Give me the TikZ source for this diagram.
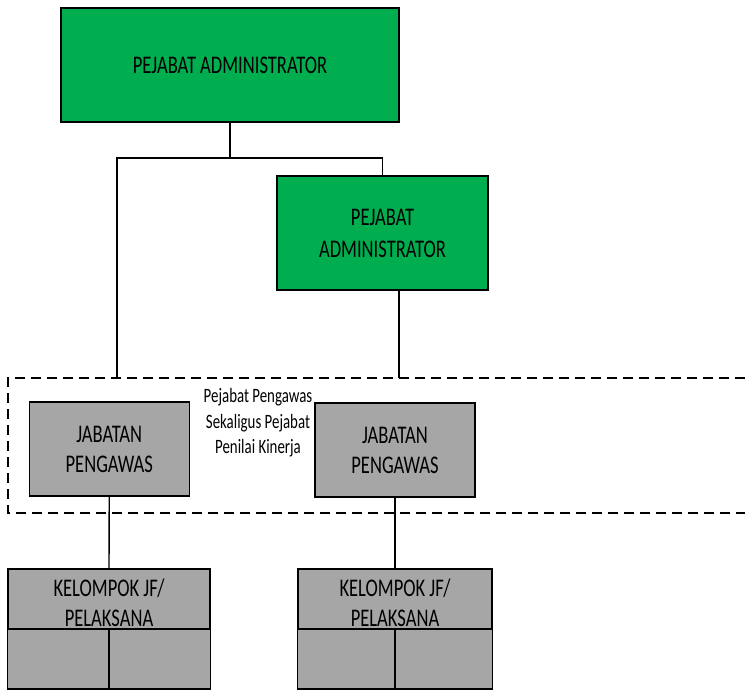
\documentclass[tikz,border=0pt]{standalone}
\usepackage{fontspec}
\newfontfamily\boxfont[FakeStretch=0.73]{Carlito}
\definecolor{admgreen}{HTML}{00AE50}
\definecolor{unitgray}{HTML}{A6A6A6}
\begin{document}
\begin{tikzpicture}[x=1pt,y=-1pt,
  box/.style={draw=black, line width=1.4pt, inner sep=0pt, align=center,
    font=\boxfont\fontsize{25.4}{30}\selectfont},
  greenbox/.style={box, fill=admgreen},
  graybox/.style={box, fill=unitgray},
  cell/.style={draw=black, line width=1.4pt, fill=unitgray},
  link/.style={draw=black, line width=1.4pt},
  groupline/.style={draw=black, line width=1.4pt, dash pattern=on 10pt off 6pt}]
\useasboundingbox (0,0) rectangle (745,690);

% administrators
\node[greenbox, minimum width=338pt, minimum height=114pt] (top) at (230,65) {PEJABAT ADMINISTRATOR};
\node[greenbox, minimum width=211pt, minimum height=114pt,
  font=\boxfont\fontsize{25.4}{32}\selectfont] (adm) at (382.5,233) {PEJABAT\\ADMINISTRATOR};

% supervisory group frame (open to the right)
\coordinate (gtl) at (8,378);
\coordinate (gbl) at (8,513);
\path[groupline] (745,378) -- (gtl) -- (gbl) -- (745,513);

% supervisors
\node[graybox, minimum width=160pt, minimum height=94pt] (jab1) at (109.25,449) {JABATAN\\PENGAWAS};
\node[graybox, minimum width=160pt, minimum height=94pt] (jab2) at (395,450) {JABATAN\\PENGAWAS};
\node[align=center, inner sep=0pt, font=\boxfont\fontsize{20.4}{25.5}\selectfont] (note) at (258,423)
  {Pejabat Pengawas\\Sekaligus Pejabat\\Penilai Kinerja};

% functional groups
\node[graybox, minimum width=202pt, minimum height=60pt] (kel1) at (109,599) {};
\node[graybox, minimum width=194pt, minimum height=60pt] (kel2) at (395,599) {};
\node[align=center, inner sep=0pt, font=\boxfont\fontsize{25.4}{30}\selectfont] (kel1text) at (109,603) {KELOMPOK JF/\\PELAKSANA};
\node[align=center, inner sep=0pt, font=\boxfont\fontsize{25.4}{30}\selectfont] (kel2text) at (395,603) {KELOMPOK JF/\\PELAKSANA};
\path[cell] (kel1.south west) rectangle (109,689);
\path[cell] (109,629) rectangle (kel1.south east |- 0,689);
\path[cell] (kel2.south west) rectangle (395,689);
\path[cell] (395,629) rectangle (kel2.south east |- 0,689);

% connectors
\coordinate (bus) at (230,158);
\coordinate (leftdrop) at (117,378);
\coordinate (admout) at (399,290);
\coordinate (admdrop) at (399,378);
\path[link] (top.south) -- (bus);
\path[link] (leftdrop) -- (117,158) -| (adm.north);
\path[link] (admout) -- (admdrop);
\path[link] (jab1.south) -- (kel1.north);
\path[link] (jab2.south) -- (kel2.north);
\end{tikzpicture}
\end{document}
